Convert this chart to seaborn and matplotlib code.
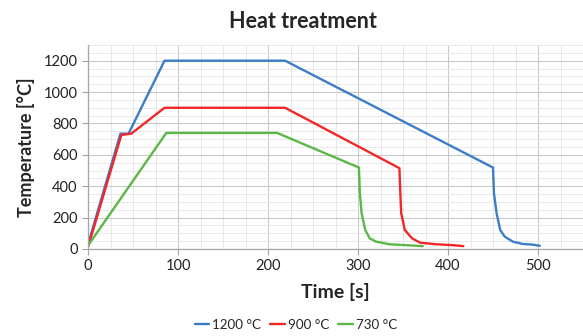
import numpy as np
import pandas as pd
import seaborn as sns
import matplotlib.pyplot as plt
from matplotlib.ticker import MultipleLocator

# curvas (tempo em s, temperatura em C)
t_1200 = [0, 36, 45, 85, 219, 450, 451, 454, 458, 463, 472, 483, 494, 502]
T_1200 = [30, 735, 735, 1200, 1200, 519, 357, 228, 121, 79, 47, 32, 28, 20]

t_900 = [0, 37, 48, 85, 219, 346, 347, 348, 352, 360, 369, 387, 406, 417]
T_900 = [12, 727, 735, 900, 900, 515, 357, 228, 121, 68, 40, 30, 24, 18]

t_730 = [0, 87, 210, 301, 302, 304, 308, 313, 320, 335, 354, 372]
T_730 = [22, 740, 740, 519, 357, 228, 121, 68, 47, 30, 24, 18]

rotulos = ["1200 °C", "900 °C", "730 °C"]
cores = ["#3c7dc6", "#f42626", "#5ab748"]

# tabela longa para o seaborn
partes = []
for nome, t, T in zip(rotulos, [t_1200, t_900, t_730], [T_1200, T_900, T_730]):
    partes.append(pd.DataFrame({"tempo": t, "temp": T, "serie": nome}))
df = pd.concat(partes, ignore_index=True)

sns.set_style("white")
plt.rcParams['font.family'] = ['Lato', 'DejaVu Sans']

fig = plt.figure(figsize=(5.83, 3.36), dpi=100)
ax = fig.add_axes([0.151, 0.259, 0.849, 0.607])

sns.lineplot(data=df, x="tempo", y="temp", hue="serie", palette=cores,
             sort=False, estimator=None, linewidth=1.7, ax=ax)

ax.set_xlim(0, 550)
ax.set_ylim(0, 1300)
ax.xaxis.set_minor_locator(MultipleLocator(25))
ax.yaxis.set_minor_locator(MultipleLocator(50))
ax.set_xticks([0, 100, 200, 300, 400, 500])
ax.set_yticks([0, 200, 400, 600, 800, 1000, 1200])
ax.grid(which="major", color="#c9c9c9", linewidth=0.8)
ax.grid(which="minor", color="#e8e8e8", linewidth=0.7)
ax.set_axisbelow(True)

for lado in ["top", "right"]:
    ax.spines[lado].set_visible(False)
for lado in ["left", "bottom"]:
    ax.spines[lado].set_color("#a6a6a6")
    ax.spines[lado].set_linewidth(0.9)
ax.tick_params(which="major", length=4, color="#a6a6a6", labelsize=10.5,
               labelcolor="#222222", left=True, bottom=True)
ax.tick_params(which="minor", length=0)

ax.set_xlabel("Time [s]", fontsize=14, fontweight="bold", labelpad=7)
ax.set_ylabel("Temperature [°C]", fontsize=13, fontweight="bold", labelpad=6)
fig.text(0.52, 0.935, "Heat treatment", fontsize=15.5, fontweight="bold",
         ha="center", va="center")

ax.legend(loc="center", bbox_to_anchor=(0.42, -0.373),
          ncol=3, frameon=False, fontsize=9.6, handlelength=1.1,
          handletextpad=0.2, columnspacing=0.7)

fig.savefig("out.png", dpi=100)
